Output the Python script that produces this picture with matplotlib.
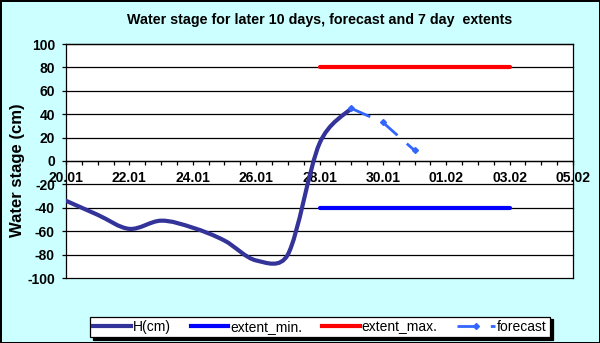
import matplotlib
matplotlib.use('Agg')
import matplotlib.pyplot as plt
from matplotlib.path import Path
from matplotlib.patches import PathPatch
from matplotlib.lines import Line2D
import numpy as np

plt.rcParams['font.family'] = ['Liberation Sans', 'DejaVu Sans']

# ---- data (x = days after 20.01) ----
h_days = [0, 1, 2, 3, 4, 5, 6, 7, 8, 9]          # 20.01 .. 29.01
h_values = [-34, -46, -58, -51, -57, -68, -85, -80, 15, 45]
fc_days = [9, 10, 11]                             # 29.01 .. 31.01
fc_values = [45, 33, 9]
ext_days = [8, 14]                                # 28.01 .. 03.02
ext_min = [-40, -40]
ext_max = [80, 80]
tick_days = [0, 2, 4, 6, 8, 10, 12, 14, 16]
tick_labels = ['20.01', '22.01', '24.01', '26.01', '28.01', '30.01', '01.02', '03.02', '05.02']
y_ticks = [-100, -80, -60, -40, -20, 0, 20, 40, 60, 80, 100]

BG = '#CCFFFF'
C_H = '#333399'
C_MIN = '#0000FF'
C_MAX = '#FF0000'
C_FC = '#3366FF'

L, R, T, B = 66, 573, 44, 278
SX = (R - L) / 16.0      # px per day
SY = (B - T) / 200.0     # px per cm


def smooth_path(xs, ys):
    """Excel-like smoothed line: cubic Bezier with clamped tangents (screen space)."""
    pts = np.column_stack([np.asarray(xs, float) * SX, np.asarray(ys, float) * SY])
    n = len(pts)
    verts = [pts[0]]
    codes = [Path.MOVETO]
    for i in range(n - 1):
        p0 = pts[i - 1] if i > 0 else pts[i]
        p1 = pts[i]
        p2 = pts[i + 1]
        p3 = pts[i + 2] if i + 2 < n else pts[i + 1]
        seg = np.linalg.norm(p2 - p1)
        v1 = (p2 - p0) / 6.0
        v2 = (p3 - p1) / 6.0
        for v in (v1, v2):
            ln = np.linalg.norm(v)
            if ln > seg / 2 and ln > 0:
                v *= (seg / 2) / ln
        c1 = p1 + v1
        c2 = p2 - v2
        verts += [c1, c2, p2]
        codes += [Path.CURVE4] * 3
    verts = np.array(verts)
    verts[:, 0] /= SX
    verts[:, 1] /= SY
    return Path(verts, codes)


fig = plt.figure(figsize=(6.0, 3.43), dpi=100)
fig.patch.set_facecolor(BG)
fig.patch.set_edgecolor('black')
fig.patch.set_linewidth(2)

ax = fig.add_axes([L / 600, 1 - B / 343, (R - L) / 600, (B - T) / 343])
ax.set_facecolor('white')
ax.set_xlim(0, 16)
ax.set_ylim(-100, 100)

# gridlines
for yv in y_ticks:
    ax.axhline(yv, color='black', lw=0.9, zorder=1, clip_on=False)

# spines
for s in ['left', 'right', 'top']:
    ax.spines[s].set_color('black')
    ax.spines[s].set_linewidth(0.9)
ax.spines['bottom'].set_position(('data', 0))
ax.spines['bottom'].set_linewidth(0.9)

ax.set_yticks(y_ticks)
ax.set_yticklabels([str(v) for v in y_ticks], fontsize=10, fontweight='bold')
ax.tick_params(axis='y', direction='out', length=3, width=0.9, pad=5)

ax.set_xticks(tick_days)
ax.set_xticklabels(tick_labels, fontsize=10, fontweight='bold')
ax.set_xticks(np.arange(0, 16.01, 0.5), minor=True)
ax.tick_params(axis='x', which='both', direction='out', length=3, width=0.9, pad=4)

# series
ax.add_patch(PathPatch(smooth_path(h_days, h_values), fill=False, edgecolor=C_H,
                       lw=3, capstyle='round', joinstyle='round', zorder=4))
ax.plot(ext_days, ext_min, color=C_MIN, lw=3, solid_capstyle='round', zorder=3)
ax.plot(ext_days, ext_max, color=C_MAX, lw=3, solid_capstyle='round', zorder=3)
ax.plot(fc_days, fc_values, color=C_FC, lw=2, linestyle=(0, (7.5, 4.5)),
        marker='D', markersize=3, zorder=5)

ax.set_ylabel('Water stage (cm)', fontsize=12, fontweight='bold')
ax.yaxis.set_label_coords((25 - L) / (R - L), 0.46)

fig.text((L + R) / 2 / 600, 1 - 20 / 343,
         'Water stage for later 10 days, forecast and 7 day  extents',
         ha='center', va='center', fontsize=10.3, fontweight='bold')

handles = [
    Line2D([], [], color=C_H, lw=3),
    Line2D([], [], color=C_MIN, lw=3),
    Line2D([], [], color=C_MAX, lw=3),
    Line2D([], [], color=C_FC, lw=2, linestyle=(0, (7.5, 4.5)), marker='D', markersize=3),
]
labels = ['H(cm)', 'extent_min.', 'extent_max.', 'forecast']
leg = fig.legend(handles, labels, loc='center',
                 bbox_to_anchor=(90 / 600, 4 / 343, 460 / 600, 24 / 343),
                 ncol=4, mode='expand', frameon=True, fancybox=False,
                 edgecolor='black', framealpha=1, facecolor='white',
                 shadow={'color': 'black', 'alpha': 1},
                 fontsize=10, handlelength=2.7, handletextpad=0.15,
                 borderaxespad=0, borderpad=0.25)
leg.get_frame().set_linewidth(0.9)

fig.savefig('out.png', dpi=100, facecolor=fig.get_facecolor(), edgecolor='black')
